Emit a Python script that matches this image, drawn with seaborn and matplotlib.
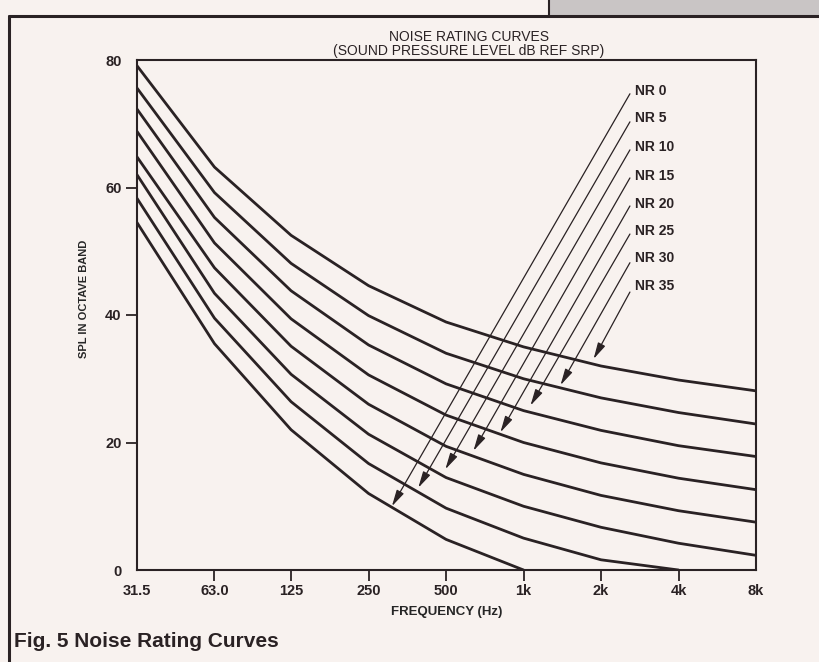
import matplotlib
matplotlib.use("Agg")
import matplotlib.pyplot as plt
from matplotlib.lines import Line2D
from matplotlib.patches import Rectangle
from matplotlib.ticker import NullLocator
import pandas as pd
import seaborn as sns

# octave band centre frequencies (Hz) and their tick labels
freqs = [31.5, 63, 125, 250, 500, 1000, 2000, 4000, 8000]
freq_labels = ['31.5', '63.0', '125', '250', '500', '1k', '2k', '4k', '8k']

# SPL (curves stop where they reach 0 dB)
nr_0 = [54.5, 35.5, 22.0, 12.0, 4.8, 0.0]
nr_5 = [58.3, 39.5, 26.4, 16.7, 9.7, 5.0, 1.6, 0.0]
nr_10 = [62.0, 43.4, 30.7, 21.3, 14.5, 10.0, 6.7, 4.2, 2.3]
nr_15 = [64.8, 47.4, 35.1, 26.0, 19.4, 15.0, 11.7, 9.3, 7.5]
nr_20 = [68.8, 51.3, 39.4, 30.6, 24.3, 20.0, 16.8, 14.4, 12.6]
nr_25 = [72.3, 55.3, 43.8, 35.3, 29.2, 25.0, 21.9, 19.5, 17.8]
nr_30 = [75.6, 59.2, 48.1, 39.9, 34.0, 30.0, 27.0, 24.7, 22.9]
nr_35 = [79.1, 63.2, 52.5, 44.6, 38.9, 35.0, 32.0, 29.8, 28.1]
curves = {'NR 0': nr_0, 'NR 5': nr_5, 'NR 10': nr_10, 'NR 15': nr_15,
          'NR 20': nr_20, 'NR 25': nr_25, 'NR 30': nr_30, 'NR 35': nr_35}

# where each label's arrow lands on its curve
arrow_freq = [308, 390, 497, 639, 813, 1064, 1392, 1871]
arrow_spl = [10.0, 12.9, 15.8, 18.7, 21.6, 25.8, 29.0, 33.1]
# arrow tails, next to the labels
tail_freq = 2590
tail_spl = [74.7, 70.3, 65.9, 61.5, 57.1, 52.7, 48.2, 43.6]
label_freq = 2718
label_spl = [75.2, 70.9, 66.4, 61.8, 57.4, 53.2, 48.9, 44.5]

rows = []
for name, vals in curves.items():
    for f, v in zip(freqs, vals):
        rows.append({'curve': name, 'freq': f, 'spl': v})
df = pd.DataFrame(rows)

ink = '#2a2224'
paper = '#f8f2ef'

sns.set_style('ticks')
plt.rcParams['font.family'] = ['Liberation Sans', 'DejaVu Sans']
plt.rcParams['text.color'] = ink
plt.rcParams['axes.edgecolor'] = ink
plt.rcParams['xtick.color'] = ink
plt.rcParams['ytick.color'] = ink

fig = plt.figure(figsize=(8.2, 6.62), dpi=100, facecolor=paper)
ax = fig.add_axes([137/820, 1 - 570/662, (756 - 137)/820, (570 - 60)/662])
ax.set_facecolor(paper)

sns.lineplot(data=df, x='freq', y='spl', units='curve', estimator=None,
             color=ink, lw=2.0, sort=False, legend=False, ax=ax)

ax.set_xscale('log', base=2)
ax.set_xlim(31.5, 8000)
ax.set_ylim(0, 80)
ax.set_xticks(freqs)
ax.set_xticklabels(freq_labels)
ax.xaxis.set_minor_locator(NullLocator())
ax.set_yticks([0, 20, 40, 60, 80])
ax.tick_params(axis='both', direction='out', length=8, width=1.3,
               labelsize=10.5)
ax.tick_params(axis='x', pad=2)
ax.tick_params(axis='y', pad=3)
for lab in ax.get_xticklabels() + ax.get_yticklabels():
    lab.set_fontweight('bold')
# no tick marks at the corners
for t in (ax.xaxis.get_major_ticks()[0], ax.xaxis.get_major_ticks()[-1],
          ax.yaxis.get_major_ticks()[0], ax.yaxis.get_major_ticks()[-1]):
    t.tick1line.set_visible(False)
for s in ax.spines.values():
    s.set_linewidth(1.5)
    s.set_visible(True)

ax.set_xlabel('FREQUENCY (Hz)', fontsize=9.5, fontweight='bold', labelpad=6)
ax.set_ylabel('SPL IN OCTAVE BAND', fontsize=8, fontweight='bold')
ax.yaxis.set_label_coords(-0.077, 0.531)

for i, name in enumerate(curves):
    ax.annotate('', xy=(arrow_freq[i], arrow_spl[i]),
                xytext=(tail_freq, tail_spl[i]),
                arrowprops=dict(arrowstyle='-|>,head_length=0.9,head_width=0.22',
                                color=ink, lw=0.9, mutation_scale=11,
                                shrinkA=0, shrinkB=0))
    ax.text(label_freq, label_spl[i], name, fontsize=10, fontweight='bold',
            ha='left', va='center')

title_font = ['Liberation Sans Narrow', 'Liberation Sans', 'DejaVu Sans']
fig.text(469/820, 1 - 36.6/662, 'NOISE RATING CURVES', ha='center',
         va='center', fontsize=10, family=title_font)
fig.text(469/820, 1 - 50.7/662, '(SOUND PRESSURE LEVEL dB REF SRP)',
         ha='center', va='center', fontsize=10, family=title_font)

fig.text(14/820, 1 - 647/662, 'Fig. 5 Noise Rating Curves', ha='left',
         va='baseline', fontsize=15, fontweight='bold')

# page frame from the magazine scan
fig.add_artist(Rectangle((549/820, 1 - 16/662), 1 - 549/820, 16/662,
                         transform=fig.transFigure, facecolor='#c9c5c5',
                         edgecolor='none'))
fig.add_artist(Line2D([9/820, 1], [1 - 16/662, 1 - 16/662],
                      transform=fig.transFigure, color=ink, lw=2.2))
fig.add_artist(Line2D([9/820, 9/820], [0, 1 - 16/662],
                      transform=fig.transFigure, color=ink, lw=2.2))
fig.add_artist(Line2D([549/820, 549/820], [1 - 16/662, 1],
                      transform=fig.transFigure, color=ink, lw=1.5))

fig.savefig('out.png', dpi=100, facecolor=paper)
